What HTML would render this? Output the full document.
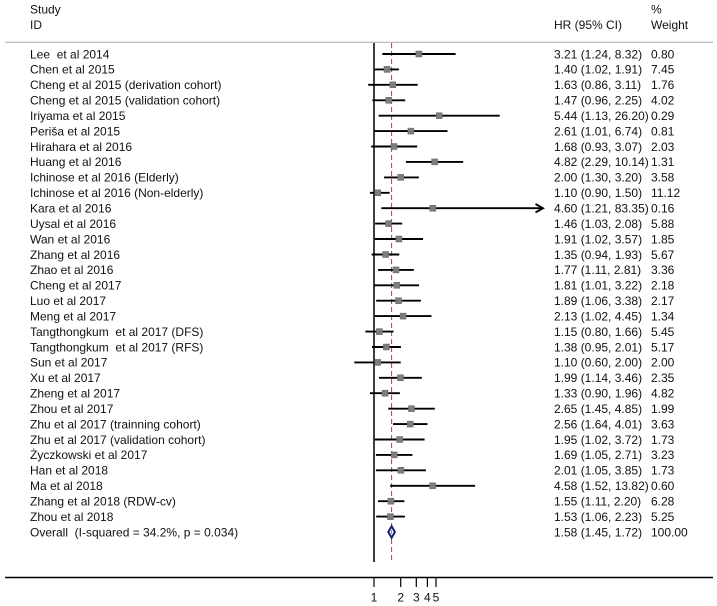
<!DOCTYPE html>
<html>
<head>
<meta charset="utf-8">
<style>
html,body{margin:0;padding:0;background:#fff;}
svg{display:block;}
text{font-family:"Liberation Sans",Arial,sans-serif;font-size:12px;fill:#111;white-space:pre;}
.ci{stroke:#000;stroke-width:1.9;fill:none;}
.bx{fill:#7d7d7d;stroke:#666;stroke-width:0.5;}
</style>
</head>
<body>
<svg width="717" height="606" viewBox="0 0 717 606" xmlns="http://www.w3.org/2000/svg" xml:space="preserve">
<rect width="717" height="606" fill="#fff"/>
<text x="30" y="13.5">Study</text>
<text x="30" y="28.8">ID</text>
<text x="554" y="28.8">HR (95% CI)</text>
<text x="651" y="13.5">%</text>
<text x="651" y="28.8">Weight</text>
<line x1="5" y1="42.3" x2="713" y2="42.3" stroke="#a8a8a8" stroke-width="1"/>

<line x1="374" y1="43" x2="374" y2="562" stroke="#000" stroke-width="1.5"/>
<line x1="391.6" y1="43" x2="391.6" y2="562" stroke="#9a4848" stroke-width="1" stroke-dasharray="5,3"/>
<line x1="5" y1="577.5" x2="713" y2="577.5" stroke="#000" stroke-width="1.5"/>
<g stroke="#000" stroke-width="1.2">
<line x1="374" y1="578" x2="374" y2="587"/>
<line x1="400.7" y1="578" x2="400.7" y2="587"/>
<line x1="416.3" y1="578" x2="416.3" y2="587"/>
<line x1="427.4" y1="578" x2="427.4" y2="587"/>
<line x1="436" y1="578" x2="436" y2="587"/>
</g>
<g text-anchor="middle">
<text x="374" y="601.5">1</text>
<text x="400.7" y="601.5">2</text>
<text x="416.3" y="601.5">3</text>
<text x="427.4" y="601.5">4</text>
<text x="436" y="601.5">5</text>
</g>

<g>
<text x="30" y="58.3">Lee  et al 2014</text>
<text x="30" y="73.7">Chen et al 2015</text>
<text x="30" y="89.1">Cheng et al 2015 (derivation cohort)</text>
<text x="30" y="104.6">Cheng et al 2015 (validation cohort)</text>
<text x="30" y="120">Iriyama et al 2015</text>
<text x="30" y="135.4">Periša et al 2015</text>
<text x="30" y="150.8">Hirahara et al 2016</text>
<text x="30" y="166.2">Huang et al 2016</text>
<text x="30" y="181.7">Ichinose et al 2016 (Elderly)</text>
<text x="30" y="197.1">Ichinose et al 2016 (Non-elderly)</text>
<text x="30" y="212.5">Kara et al 2016</text>
<text x="30" y="227.9">Uysal et al 2016</text>
<text x="30" y="243.3">Wan et al 2016</text>
<text x="30" y="258.8">Zhang et al 2016</text>
<text x="30" y="274.2">Zhao et al 2016</text>
<text x="30" y="289.6">Cheng et al 2017</text>
<text x="30" y="305">Luo et al 2017</text>
<text x="30" y="320.4">Meng et al 2017</text>
<text x="30" y="335.9">Tangthongkum  et al 2017 (DFS)</text>
<text x="30" y="351.3">Tangthongkum  et al 2017 (RFS)</text>
<text x="30" y="366.7">Sun et al 2017</text>
<text x="30" y="382.1">Xu et al 2017</text>
<text x="30" y="397.5">Zheng et al 2017</text>
<text x="30" y="413">Zhou et al 2017</text>
<text x="30" y="428.4">Zhu et al 2017 (trainning cohort)</text>
<text x="30" y="443.8">Zhu et al 2017 (validation cohort)</text>
<text x="30" y="459.2">Życzkowski et al 2017</text>
<text x="30" y="474.6">Han et al 2018</text>
<text x="30" y="490.1">Ma et al 2018</text>
<text x="30" y="505.5">Zhang et al 2018 (RDW-cv)</text>
<text x="30" y="520.9">Zhou et al 2018</text>
<text x="30" y="536.3">Overall  (I-squared = 34.2%, p = 0.034)</text>
</g>

<g>
<text x="554" y="58.3">3.21 (1.24, 8.32)</text><text x="651" y="58.3">0.80</text>
<text x="554" y="73.7">1.40 (1.02, 1.91)</text><text x="651" y="73.7">7.45</text>
<text x="554" y="89.1">1.63 (0.86, 3.11)</text><text x="651" y="89.1">1.76</text>
<text x="554" y="104.6">1.47 (0.96, 2.25)</text><text x="651" y="104.6">4.02</text>
<text x="554" y="120">5.44 (1.13, 26.20)</text><text x="651" y="120">0.29</text>
<text x="554" y="135.4">2.61 (1.01, 6.74)</text><text x="651" y="135.4">0.81</text>
<text x="554" y="150.8">1.68 (0.93, 3.07)</text><text x="651" y="150.8">2.03</text>
<text x="554" y="166.2">4.82 (2.29, 10.14)</text><text x="651" y="166.2">1.31</text>
<text x="554" y="181.7">2.00 (1.30, 3.20)</text><text x="651" y="181.7">3.58</text>
<text x="554" y="197.1">1.10 (0.90, 1.50)</text><text x="651" y="197.1">11.12</text>
<text x="554" y="212.5">4.60 (1.21, 83.35)</text><text x="651" y="212.5">0.16</text>
<text x="554" y="227.9">1.46 (1.03, 2.08)</text><text x="651" y="227.9">5.88</text>
<text x="554" y="243.3">1.91 (1.02, 3.57)</text><text x="651" y="243.3">1.85</text>
<text x="554" y="258.8">1.35 (0.94, 1.93)</text><text x="651" y="258.8">5.67</text>
<text x="554" y="274.2">1.77 (1.11, 2.81)</text><text x="651" y="274.2">3.36</text>
<text x="554" y="289.6">1.81 (1.01, 3.22)</text><text x="651" y="289.6">2.18</text>
<text x="554" y="305">1.89 (1.06, 3.38)</text><text x="651" y="305">2.17</text>
<text x="554" y="320.4">2.13 (1.02, 4.45)</text><text x="651" y="320.4">1.34</text>
<text x="554" y="335.9">1.15 (0.80, 1.66)</text><text x="651" y="335.9">5.45</text>
<text x="554" y="351.3">1.38 (0.95, 2.01)</text><text x="651" y="351.3">5.17</text>
<text x="554" y="366.7">1.10 (0.60, 2.00)</text><text x="651" y="366.7">2.00</text>
<text x="554" y="382.1">1.99 (1.14, 3.46)</text><text x="651" y="382.1">2.35</text>
<text x="554" y="397.5">1.33 (0.90, 1.96)</text><text x="651" y="397.5">4.82</text>
<text x="554" y="413">2.65 (1.45, 4.85)</text><text x="651" y="413">1.99</text>
<text x="554" y="428.4">2.56 (1.64, 4.01)</text><text x="651" y="428.4">3.63</text>
<text x="554" y="443.8">1.95 (1.02, 3.72)</text><text x="651" y="443.8">1.73</text>
<text x="554" y="459.2">1.69 (1.05, 2.71)</text><text x="651" y="459.2">3.23</text>
<text x="554" y="474.6">2.01 (1.05, 3.85)</text><text x="651" y="474.6">1.73</text>
<text x="554" y="490.1">4.58 (1.52, 13.82)</text><text x="651" y="490.1">0.60</text>
<text x="554" y="505.5">1.55 (1.11, 2.20)</text><text x="651" y="505.5">6.28</text>
<text x="554" y="520.9">1.53 (1.06, 2.23)</text><text x="651" y="520.9">5.25</text>
<text x="554" y="536.3">1.58 (1.45, 1.72)</text><text x="651" y="536.3">100.00</text>
</g>

<g class="ci">
<line x1="382.3" y1="54" x2="455.6" y2="54"/>
<line x1="374.8" y1="69.4" x2="398.9" y2="69.4"/>
<line x1="368.2" y1="84.8" x2="417.7" y2="84.8"/>
<line x1="372.4" y1="100.3" x2="405.2" y2="100.3"/>
<line x1="378.7" y1="115.7" x2="499.7" y2="115.7"/>
<line x1="374.4" y1="131.1" x2="447.5" y2="131.1"/>
<line x1="371.2" y1="146.5" x2="417.2" y2="146.5"/>
<line x1="405.9" y1="161.9" x2="463.2" y2="161.9"/>
<line x1="384.1" y1="177.4" x2="418.8" y2="177.4"/>
<line x1="369.9" y1="192.8" x2="389.6" y2="192.8"/>
<line x1="381.3" y1="208.2" x2="542" y2="208.2"/>
<polyline points="535.5,204 543,208.2 535.5,212.4"/>
<line x1="375.1" y1="223.6" x2="402.2" y2="223.6"/>
<line x1="374.8" y1="239" x2="423" y2="239"/>
<line x1="371.6" y1="254.5" x2="399.3" y2="254.5"/>
<line x1="378" y1="269.9" x2="413.8" y2="269.9"/>
<line x1="374.4" y1="285.3" x2="419" y2="285.3"/>
<line x1="376.2" y1="300.7" x2="420.9" y2="300.7"/>
<line x1="374.8" y1="316.1" x2="431.5" y2="316.1"/>
<line x1="365.4" y1="331.6" x2="393.5" y2="331.6"/>
<line x1="372" y1="347" x2="400.9" y2="347"/>
<line x1="354.3" y1="362.4" x2="400.7" y2="362.4"/>
<line x1="379" y1="377.8" x2="421.8" y2="377.8"/>
<line x1="369.9" y1="393.2" x2="399.9" y2="393.2"/>
<line x1="388.3" y1="408.7" x2="434.8" y2="408.7"/>
<line x1="393" y1="424.1" x2="427.5" y2="424.1"/>
<line x1="374.8" y1="439.5" x2="424.6" y2="439.5"/>
<line x1="375.9" y1="454.9" x2="412.4" y2="454.9"/>
<line x1="375.9" y1="470.3" x2="425.9" y2="470.3"/>
<line x1="390.1" y1="485.8" x2="475.1" y2="485.8"/>
<line x1="378" y1="501.2" x2="404.4" y2="501.2"/>
<line x1="376.2" y1="516.6" x2="404.9" y2="516.6"/>
</g>

<g class="bx">
<rect x="415.9" y="51" width="6" height="6"/>
<rect x="384" y="66.4" width="6" height="6"/>
<rect x="389.8" y="81.8" width="6" height="6"/>
<rect x="385.8" y="97.3" width="6" height="6"/>
<rect x="436.2" y="112.7" width="6" height="6"/>
<rect x="407.9" y="128.1" width="6" height="6"/>
<rect x="391" y="143.5" width="6" height="6"/>
<rect x="431.6" y="158.9" width="6" height="6"/>
<rect x="397.7" y="174.4" width="6" height="6"/>
<rect x="374.7" y="189.8" width="6" height="6"/>
<rect x="429.8" y="205.2" width="6" height="6"/>
<rect x="385.6" y="220.6" width="6" height="6"/>
<rect x="395.9" y="236" width="6" height="6"/>
<rect x="382.6" y="251.5" width="6" height="6"/>
<rect x="393" y="266.9" width="6" height="6"/>
<rect x="393.8" y="282.3" width="6" height="6"/>
<rect x="395.5" y="297.7" width="6" height="6"/>
<rect x="400.1" y="313.1" width="6" height="6"/>
<rect x="376.4" y="328.6" width="6" height="6"/>
<rect x="383.4" y="344" width="6" height="6"/>
<rect x="374.7" y="359.4" width="6" height="6"/>
<rect x="397.5" y="374.8" width="6" height="6"/>
<rect x="382" y="390.2" width="6" height="6"/>
<rect x="408.5" y="405.7" width="6" height="6"/>
<rect x="407.2" y="421.1" width="6" height="6"/>
<rect x="396.7" y="436.5" width="6" height="6"/>
<rect x="391.2" y="451.9" width="6" height="6"/>
<rect x="397.9" y="467.3" width="6" height="6"/>
<rect x="429.6" y="482.8" width="6" height="6"/>
<rect x="387.9" y="498.2" width="6" height="6"/>
<rect x="387.4" y="513.6" width="6" height="6"/>
</g>

<polygon points="388.3,532 391.6,526.3 394.9,532 391.6,537.7" fill="#fff" stroke="#1c1c78" stroke-width="2"/>
<line x1="391.6" y1="530" x2="391.6" y2="534" stroke="#888" stroke-width="1"/>
</svg>
</body>
</html>
